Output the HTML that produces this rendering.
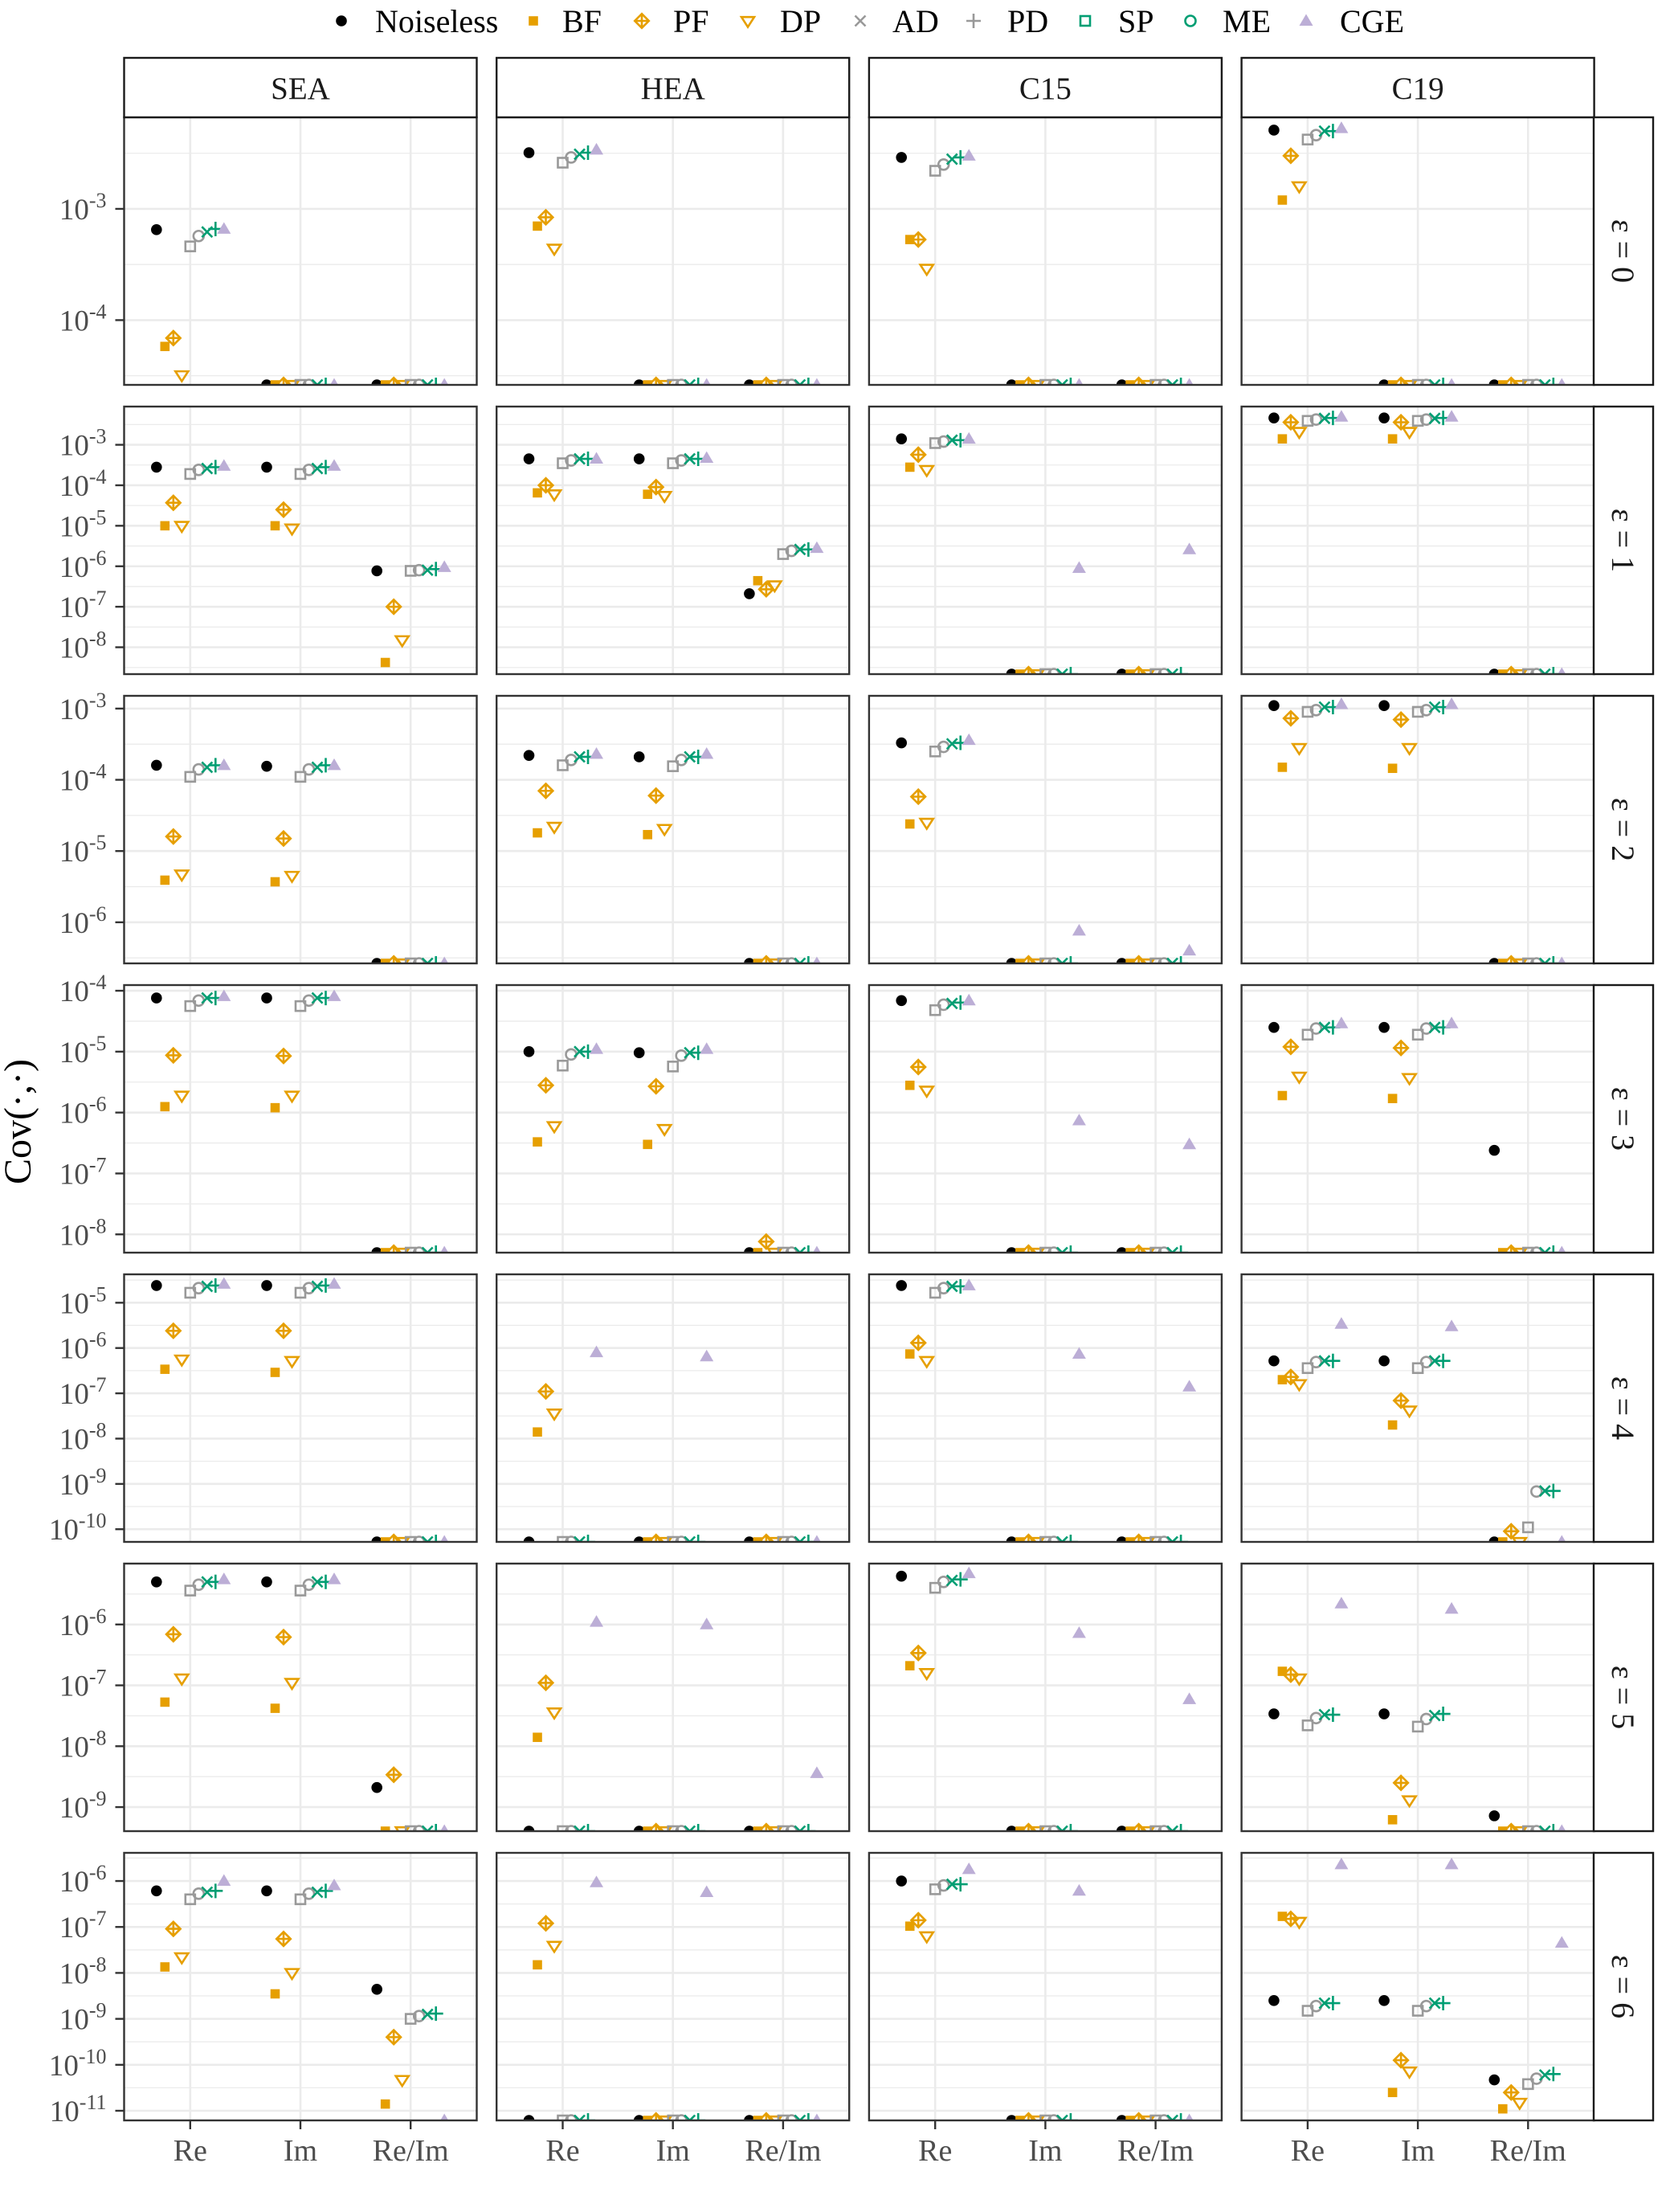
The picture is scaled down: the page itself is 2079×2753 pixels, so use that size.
<!DOCTYPE html>
<html><head><meta charset="utf-8">
<style>
html,body{margin:0;padding:0;background:#fff;}
svg{display:block;}
text{font-family:"Liberation Serif",serif;}
</style></head>
<body>
<svg id="chart" xmlns="http://www.w3.org/2000/svg" width="2079" height="2753" viewBox="0 0 2079 2753">
<rect width="2079" height="2753" fill="#fff"/>
<g id="legend"></g>
<g id="panels"></g>
<text transform="translate(38,1396) rotate(-90)" text-anchor="middle" font-size="48" fill="#000">Cov(·,·)</text>
</svg>
<script>
// ---- data: index = row*12 + col*3 + cat  (rows eps=0..6, cols SEA,HEA,C15,C19, cats Re,Im,Re/Im); 0 = floor
const panelCols = ["SEA","HEA","C15","C19"];
const panelRows = ["0","1","2","3","4","5","6"];
const categories = ["Re","Im","Re/Im"];
const noiseless = [
6.5e-4,0,0, 3.2e-3,0,0, 2.9e-3,0,0, 5.1e-3,0,0,
2.8e-4,2.8e-4,7.7e-7, 4.5e-4,4.5e-4,2.1e-7, 1.4e-3,0,0, 4.6e-3,4.6e-3,0,
1.6e-4,1.55e-4,0, 2.2e-4,2.1e-4,0, 3.3e-4,0,0, 1.1e-3,1.1e-3,0,
7.6e-5,7.6e-5,0, 1e-5,9.6e-6,0, 6.9e-5,0,0, 2.5e-5,2.5e-5,2.4e-7,
2.4e-5,2.4e-5,0, 0,0,0, 2.4e-5,0,0, 5.2e-7,5.2e-7,0,
5e-6,5e-6,2.1e-9, 0,0,0, 6.2e-6,0,0, 3.4e-8,3.4e-8,7.2e-10,
6.1e-7,6.1e-7,4.4e-9, 0,0,0, 1e-6,0,0, 2.5e-9,2.5e-9,4.7e-11];
const bf = [
5.8e-5,0,0, 7e-4,0,0, 5.3e-4,0,0, 1.2e-3,0,0,
1e-5,1e-5,4.2e-9, 6.5e-5,6e-5,4.4e-7, 2.8e-4,0,0, 1.4e-3,1.4e-3,0,
3.9e-6,3.7e-6,0, 1.8e-5,1.7e-5,0, 2.4e-5,0,0, 1.5e-4,1.45e-4,0,
1.25e-6,1.2e-6,0, 3.3e-7,3e-7,0, 2.8e-6,0,0, 1.9e-6,1.7e-6,0,
3.4e-7,2.9e-7,0, 1.4e-8,0,0, 7.4e-7,0,0, 2e-7,2e-8,0,
5.3e-8,4.2e-8,0, 1.4e-8,0,0, 2.1e-7,0,0, 1.7e-7,6.2e-10,0,
1.35e-8,3.5e-9,1.4e-11, 1.5e-8,0,0, 1.04e-7,0,0, 1.7e-7,2.5e-11,1.1e-11];
const pf = [
6.9e-5,0,0, 8.4e-4,0,0, 5.3e-4,0,0, 3e-3,0,0,
3.7e-5,2.5e-5,1e-7, 1e-4,9e-5,2.7e-7, 5.7e-4,0,0, 3.6e-3,3.6e-3,0,
1.6e-5,1.5e-5,0, 7e-5,6e-5,0, 5.8e-5,0,0, 7.3e-4,7e-4,0,
8.7e-6,8.5e-6,0, 2.8e-6,2.7e-6,7.6e-9, 5.6e-6,0,0, 1.2e-5,1.15e-5,0,
2.4e-6,2.4e-6,0, 1.1e-7,0,0, 1.3e-6,0,0, 2.3e-7,6.9e-8,9e-11,
6.9e-7,6.2e-7,3.4e-9, 1.1e-7,0,0, 3.4e-7,0,0, 1.5e-7,2.5e-9,0,
9.1e-8,5.5e-8,4e-10, 1.2e-7,0,0, 1.4e-7,0,0, 1.5e-7,1.26e-10,2.5e-11];
const dp = [
3.2e-5,0,0, 4.4e-4,0,0, 2.9e-4,0,0, 1.6e-3,0,0,
1e-5,8.6e-6,1.5e-8, 6e-5,5.5e-5,3.4e-7, 2.4e-4,0,0, 2.1e-3,2.1e-3,0,
4.7e-6,4.5e-6,0, 2.2e-5,2.05e-5,0, 2.5e-5,0,0, 2.8e-4,2.8e-4,0,
1.9e-6,1.9e-6,0, 6e-7,5.4e-7,0, 2.3e-6,0,0, 3.9e-6,3.7e-6,0,
5.6e-7,5.2e-7,0, 3.6e-8,0,0, 5.2e-7,0,0, 1.6e-7,4.2e-8,0,
1.3e-7,1.1e-7,0, 3.6e-8,0,0, 1.6e-7,0,0, 1.3e-7,1.3e-9,0,
2.2e-8,1e-8,4.7e-11, 3.9e-8,0,0, 6.3e-8,0,0, 1.3e-7,7.2e-11,1.5e-11];
const ad = [
4.6e-4,0,0, 2.6e-3,0,0, 2.2e-3,0,0, 4.2e-3,0,0,
1.9e-4,1.9e-4,7.7e-7, 3.5e-4,3.5e-4,2e-6, 1.1e-3,0,0, 3.9e-3,3.9e-3,0,
1.1e-4,1.1e-4,0, 1.6e-4,1.55e-4,0, 2.5e-4,0,0, 9e-4,9e-4,0,
5.6e-5,5.6e-5,0, 5.9e-6,5.7e-6,0, 4.8e-5,0,0, 1.9e-5,1.9e-5,0,
1.66e-5,1.66e-5,0, 0,0,0, 1.66e-5,0,0, 3.6e-7,3.6e-7,1.1e-10,
3.6e-6,3.6e-6,0, 0,0,0, 4e-6,0,0, 2.2e-8,2.1e-8,0,
4e-7,4e-7,1e-9, 0,0,0, 6.6e-7,0,0, 1.5e-9,1.5e-9,3.8e-11];
const pd = [
5.7e-4,0,0, 2.9e-3,0,0, 2.5e-3,0,0, 4.6e-3,0,0,
2.4e-4,2.4e-4,8e-7, 4.1e-4,4.1e-4,2.4e-6, 1.2e-3,0,0, 4.2e-3,4.2e-3,0,
1.4e-4,1.4e-4,0, 1.9e-4,1.9e-4,0, 2.9e-4,0,0, 9.5e-4,9.5e-4,0,
6.9e-5,6.9e-5,0, 9e-6,8.6e-6,0, 5.9e-5,0,0, 2.4e-5,2.4e-5,0,
2.1e-5,2.1e-5,0, 0,0,0, 2.1e-5,0,0, 4.9e-7,4.9e-7,6.8e-10,
4.5e-6,4.5e-6,0, 0,0,0, 5e-6,0,0, 2.9e-8,2.8e-8,0,
5.3e-7,5.3e-7,1.15e-9, 0,0,0, 8e-7,0,0, 1.9e-9,1.9e-9,5e-11];
const sp = [
6.2e-4,0,0, 3.1e-3,0,0, 2.8e-3,0,0, 5e-3,0,0,
2.6e-4,2.6e-4,8e-7, 4.5e-4,4.5e-4,2.6e-6, 1.3e-3,0,0, 4.5e-3,4.5e-3,0,
1.5e-4,1.5e-4,0, 2.1e-4,2.1e-4,0, 3.2e-4,0,0, 1.05e-3,1.05e-3,0,
7.6e-5,7.6e-5,0, 1e-5,9.6e-6,0, 6.2e-5,0,0, 2.5e-5,2.5e-5,0,
2.3e-5,2.3e-5,0, 0,0,0, 2.3e-5,0,0, 5.2e-7,5.2e-7,7e-10,
5e-6,5e-6,0, 0,0,0, 5.3e-6,0,0, 3.3e-8,3.2e-8,0,
5.7e-7,5.7e-7,1.25e-9, 0,0,0, 8.5e-7,0,0, 2.2e-9,2.2e-9,6e-11];
const me = [
6.6e-4,0,0, 3.2e-3,0,0, 2.9e-3,0,0, 5e-3,0,0,
2.8e-4,2.8e-4,8.5e-7, 4.5e-4,4.5e-4,2.6e-6, 1.3e-3,0,0, 4.6e-3,4.6e-3,0,
1.6e-4,1.6e-4,0, 2.1e-4,2.1e-4,0, 3.3e-4,0,0, 1.05e-3,1.05e-3,0,
7.6e-5,7.6e-5,0, 1e-5,9.6e-6,0, 6.4e-5,0,0, 2.5e-5,2.5e-5,0,
2.4e-5,2.4e-5,0, 0,0,0, 2.3e-5,0,0, 5.2e-7,5.2e-7,7e-10,
5e-6,5e-6,0, 0,0,0, 5.5e-6,0,0, 3.3e-8,3.4e-8,0,
6.1e-7,6.1e-7,1.3e-9, 0,0,0, 8.5e-7,0,0, 2.2e-9,2.2e-9,6.3e-11];
const cge = [
6.6e-4,0,0, 3.4e-3,0,0, 3e-3,0,0, 5.3e-3,0,0,
3e-4,3e-4,9.5e-7, 4.5e-4,4.7e-4,2.8e-6, 1.4e-3,9e-7,2.6e-6, 4.9e-3,4.9e-3,0,
1.6e-4,1.6e-4,0, 2.3e-4,2.3e-4,0, 3.6e-4,7.6e-7,4e-7, 1.15e-3,1.15e-3,0,
8.1e-5,8.1e-5,0, 1.1e-5,1.1e-5,0, 6.9e-5,7.4e-7,3e-7, 2.9e-5,2.9e-5,0,
2.6e-5,2.6e-5,0, 8e-7,6.5e-7,0, 2.4e-5,7.4e-7,1.4e-7, 3.4e-6,3e-6,0,
5.5e-6,5.5e-6,0, 1.1e-6,1e-6,3.6e-9, 6.9e-6,7.2e-7,5.9e-8, 2.2e-6,1.8e-6,0,
1e-6,8e-7,0, 9.3e-7,5.7e-7,0, 1.8e-6,6.1e-7,0, 2.3e-6,2.3e-6,4.5e-8];
const seriesNames = ["Noiseless","BF","PF","DP","AD","PD","SP","ME","CGE"];
const seriesValues = [noiseless,bf,pf,dp,ad,pd,sp,me,cge];
// per-row log10 axis limits (top, bottom)
const rowLogTop = [-2.177,-2.056,-2.821,-3.907,-4.373,-5.0,-5.387];
const rowLogBottom = [-4.582,-8.664,-6.577,-8.30,-10.28,-9.395,-11.21];

const NS = "http://www.w3.org/2000/svg";
const svg = document.getElementById('chart');
const panelsG = document.getElementById('panels');
const legendG = document.getElementById('legend');
function mk(tag, attrs, parent){const e=document.createElementNS(NS,tag);for(const k in attrs)e.setAttribute(k,attrs[k]);if(parent)parent.appendChild(e);return e;}

const OR="#E69F00", GR="#999999", GN="#009E73", PU="#BCAED6";
// marker drawing by plotting position
function marker(g, kind, x, y, colorOverride){
  const sw=2.6;
  if(kind===0){mk('circle',{cx:x,cy:y,r:6.8,fill:"#000"},g);}
  else if(kind===1){mk('rect',{x:x-5.8,y:y-5.8,width:11.6,height:11.6,fill:OR},g);}
  else if(kind===2){const d=8.8;mk('path',{d:`M${x},${y-d}L${x+d},${y}L${x},${y+d}L${x-d},${y}Z M${x-d},${y}L${x+d},${y} M${x},${y-d}L${x},${y+d}`,fill:"none",stroke:OR,"stroke-width":sw},g);}
  else if(kind===3){const d=8;mk('path',{d:`M${x-d},${y-d*0.6}L${x+d},${y-d*0.6}L${x},${y+d*0.95}Z`,fill:"none",stroke:OR,"stroke-width":sw,"stroke-linejoin":"miter"},g);}
  else if(kind===4){mk('rect',{x:x-6,y:y-6,width:12,height:12,fill:"none",stroke:colorOverride||GR,"stroke-width":sw},g);}
  else if(kind===5){mk('circle',{cx:x,cy:y,r:6.5,fill:"none",stroke:colorOverride||GR,"stroke-width":sw},g);}
  else if(kind===6){const d=6.5;mk('path',{d:`M${x-d},${y-d}L${x+d},${y+d}M${x-d},${y+d}L${x+d},${y-d}`,stroke:colorOverride||GN,"stroke-width":sw},g);}
  else if(kind===7){const d=9;mk('path',{d:`M${x-d},${y}L${x+d},${y}M${x},${y-d}L${x},${y+d}`,stroke:colorOverride||GN,"stroke-width":sw},g);}
  else {const d=8.5;mk('path',{d:`M${x},${y-d}L${x+d},${y+d*0.7}L${x-d},${y+d*0.7}Z`,fill:PU},g);}
}

// layout
const PL=154.5, PW=439, CSTEP=463.7, PT=146, PH=333, RSTEP=360;
function xScale(c,k){return PL+c*CSTEP+(k+0.6)*PW/3.2;}
function yScale(r,v){
  const top=PT+r*RSTEP, lt=rowLogTop[r], lb=rowLogBottom[r];
  if(!(v>0)) return top+PH;
  return top+(lt-Math.log10(v))/(lt-lb)*PH;
}
const DODGE=10.5;

const defs=mk('defs',{},svg);
for(let r=0;r<7;r++){
  const top=PT+r*RSTEP;
  for(let c=0;c<4;c++){
    const left=PL+c*CSTEP;
    const cp=mk('clipPath',{id:`clip${r}_${c}`},defs);
    mk('rect',{x:left,y:top,width:PW,height:PH},cp);
    const pg=mk('g',{},panelsG);
    
    
    mk('rect',{x:left,y:top,width:PW,height:PH,fill:"#fff"},pg);
    const lt=rowLogTop[r], lb=rowLogBottom[r];
    // minor grid
    for(let k=Math.floor(lb)-1;k<=Math.ceil(lt)+1;k++){
      const m=k+0.5; if(m<lt && m>lb){const y=yScale(r,Math.pow(10,m));mk('line',{x1:left,x2:left+PW,y1:y,y2:y,stroke:"#EBEBEB","stroke-width":1.3},pg);}
    }
    for(let k=Math.ceil(lb);k<=Math.floor(lt);k++){
      const y=yScale(r,Math.pow(10,k));mk('line',{x1:left,x2:left+PW,y1:y,y2:y,stroke:"#EBEBEB","stroke-width":2.6},pg);
    }
    for(let k=0;k<3;k++){const x=xScale(c,k);mk('line',{x1:x,x2:x,y1:top,y2:top+PH,stroke:"#EBEBEB","stroke-width":2.6},pg);}
    const mg=mk('g',{"clip-path":`url(#clip${r}_${c})`},pg);
    for(let k=0;k<3;k++){
      for(let s=0;s<9;s++){
        const v=seriesValues[s][r*12+c*3+k];
        if(v===null||v===undefined) continue;
        const x=xScale(c,k)+(s-4)*DODGE, y=yScale(r,v);
        const g=mk('g',{},mg);
        
        
        marker(g,s,x,y);
      }
    }
    mk('rect',{x:left,y:top,width:PW,height:PH,fill:"none",stroke:"#333","stroke-width":2.4},pg);
    // y ticks on first column
    if(c===0){
      for(let k=Math.ceil(lb);k<=Math.floor(lt);k++){
        if(k>lt-0.05) continue;
        const y=yScale(r,Math.pow(10,k));
        mk('line',{x1:left-11,x2:left,y1:y,y2:y,stroke:"#333","stroke-width":2.4},panelsG);
        const t=mk('text',{x:left-22,y:y+13,"text-anchor":"end","font-size":37,fill:"#4D4D4D"},panelsG);
        
        
        t.appendChild(document.createTextNode('10'));
        const ts=mk('tspan',{"font-size":26,dy:-15},t); ts.textContent=String(k);
      }
    }
    // x ticks on bottom row
    if(r===6){
      for(let k=0;k<3;k++){
        const x=xScale(c,k);
        mk('line',{x1:x,x2:x,y1:top+PH,y2:top+PH+11,stroke:"#333","stroke-width":2.4},panelsG);
        const t=mk('text',{x:x,y:top+PH+50,"text-anchor":"middle","font-size":38,fill:"#4D4D4D"},panelsG);
        
        
        t.textContent=categories[k];
      }
    }
    // top strips
    if(r===0){
      const sg=mk('g',{},panelsG);
      
      
      mk('rect',{x:left,y:72,width:PW,height:74,fill:"#fff",stroke:"#1a1a1a","stroke-width":2.4},sg);
      const t=mk('text',{x:left+PW/2,y:123,"text-anchor":"middle","font-size":39,fill:"#1a1a1a"},sg);
      t.textContent=panelCols[c];
    }
  }
  // right strip
  const rg=mk('g',{},panelsG);
  
  
  mk('rect',{x:1984,y:top,width:74,height:PH,fill:"#fff",stroke:"#1a1a1a","stroke-width":2.4},rg);
  const t=mk('text',{transform:`translate(2007,${top+PH/2}) rotate(90)`,"text-anchor":"middle","font-size":40,fill:"#1a1a1a"},rg);
  t.textContent="ε = "+panelRows[r];
}

// legend
const legMarkX=[425,664,799,931,1071,1212,1351,1482,1626];
const legTextX=[467,700,838,971,1111,1254,1392,1522,1668];
const legKind=[0,1,2,3,6,7,4,5,8];
const legColor=[null,null,null,null,GR,GR,GN,GN,null];
for(let i=0;i<9;i++){
  const g=mk('g',{},legendG);
  
  
  marker(g,legKind[i],legMarkX[i],26,legColor[i]);
  const t=mk('text',{x:legTextX[i],y:40,"font-size":40,fill:"#000"},g);
  t.textContent=seriesNames[i];
}
</script>
</body></html>
